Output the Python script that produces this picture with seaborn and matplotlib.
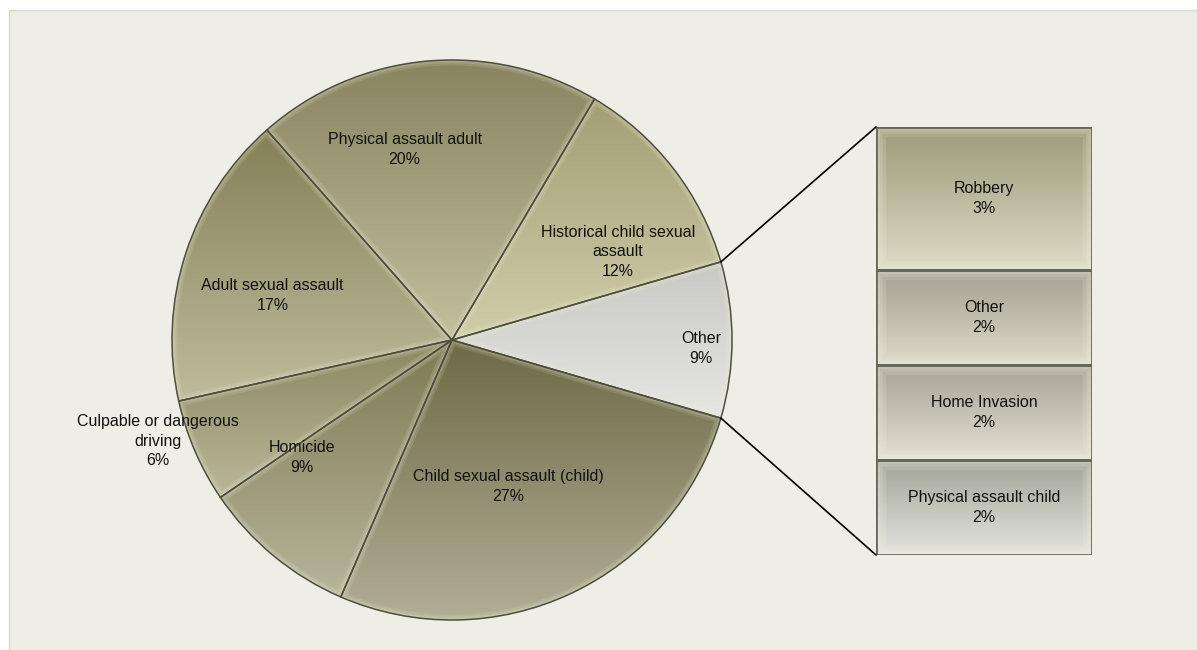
import numpy as np
import matplotlib
matplotlib.use("Agg")
import matplotlib.pyplot as plt
import seaborn as sns
from matplotlib.patches import Rectangle, ConnectionPatch, PathPatch

# Main pie: offence categories (percent), counter-clockwise from the right
pie_labels = ["Other", "Historical child sexual\nassault", "Physical assault adult",
              "Adult sexual assault", "Culpable or dangerous\ndriving", "Homicide",
              "Child sexual assault (child)"]
pie_values = [9, 12, 20, 17, 6, 9, 27]

# Breakdown of "Other", stacked bottom to top
other_labels = ["Physical assault child", "Home Invasion", "Other", "Robbery"]
other_values = [2, 2, 2, 3]

# Gradient colours per slice / segment: (bottom, top)
pie_colors = [("#E6E6E2", "#C9C9C4"), ("#D0CDAA", "#A29E74"), ("#C2BF9F", "#888460"),
              ("#BFBC9D", "#838057"), ("#BAB89A", "#8A8761"), ("#B7B59A", "#7D7A54"),
              ("#B1AE96", "#6D6A46")]
bar_colors = [("#E3E4DC", "#A2A498"), ("#E3E0D3", "#A6A295"),
              ("#DDDAC9", "#A3A093"), ("#DDDBC6", "#9B9A78")]

# Label placement inside the pie: (radius, angle in degrees)
label_polar = [(0.89, -2), (0.67, 28), (0.70, 104), (0.66, 166), (1.11, 199),
               (0.68, 218), (0.56, -69)]

sns.set_theme(style="white")
plt.rcParams["font.family"] = ["Liberation Sans", "DejaVu Sans"]

W, H = 1197, 650
fig = plt.figure(figsize=(W / 100, H / 100), dpi=100)
fig.patch.set_facecolor("white")

# Light panel behind the chart
fig.patches.append(Rectangle((9 / W, -0.02), 1.05, (H - 10) / H + 0.02,
                             transform=fig.transFigure, facecolor="#EEEEE6",
                             edgecolor="#D8D8D0", linewidth=1.0, zorder=-10))


def gradient_fill(ax, patch, extent, colors):
    cmap = sns.blend_palette(list(colors), as_cmap=True)
    grad = np.linspace(0, 1, 256).reshape(-1, 1)
    im = ax.imshow(grad, extent=extent, origin="lower", cmap=cmap,
                   aspect="auto", zorder=0.5, interpolation="bilinear")
    im.set_clip_path(patch)
    return im


def bevel(ax, patch, light, widths, alpha):
    """Soft inner highlight along the outline of a patch (layered strokes)."""
    for lw in widths:
        rim = PathPatch(patch.get_path(), transform=patch.get_transform(),
                        facecolor="none", edgecolor=light, linewidth=lw,
                        alpha=alpha, zorder=0.8, joinstyle="round")
        ax.add_patch(rim)
        rim.set_clip_path(patch)


# ---- pie ----
ax_pie = fig.add_axes([172 / W, 30 / H, 560 / W, 560 / H])
ax_pie.patch.set_visible(False)
total = sum(pie_values)
start = -pie_values[0] / total * 180
wedges, _ = ax_pie.pie(pie_values, startangle=start, counterclock=True,
                       wedgeprops=dict(edgecolor="#4E4E3C", linewidth=1.1))

for w, (c_lo, c_hi) in zip(wedges, pie_colors):
    w.set_facecolor("none")
    th = np.radians(np.linspace(w.theta1, w.theta2, 200))
    xs = np.concatenate([[0], np.cos(th)])
    ys = np.concatenate([[0], np.sin(th)])
    gradient_fill(ax_pie, w, [xs.min(), xs.max(), ys.min(), ys.max()], (c_lo, c_hi))
    bevel(ax_pie, w, "#F4F2DC", [8, 5, 3], 0.12)

for lab, v, (r, ang) in zip(pie_labels, pie_values, label_polar):
    a = np.radians(ang)
    ax_pie.text(r * np.cos(a), r * np.sin(a), f"{lab}\n{v}%", ha="center",
                va="center", fontsize=11.5, linespacing=1.4, color="#111111")

ax_pie.set_xlim(-1, 1)
ax_pie.set_ylim(-1, 1)
ax_pie.set_aspect("auto")
ax_pie.axis("off")

# ---- stacked bar for the "Other" breakdown ----
ax_bar = fig.add_axes([876 / W, 95 / H, 216 / W, 428 / H])
ax_bar.patch.set_visible(False)
bottoms = np.concatenate([[0], np.cumsum(other_values)[:-1]])
bars = ax_bar.bar(0, other_values, width=1.0, bottom=bottoms,
                  facecolor="none", edgecolor="#66665A", linewidth=2.0)
for b, bot, v, cols, lab in zip(bars, bottoms, other_values, bar_colors, other_labels):
    gradient_fill(ax_bar, b, [-0.5, 0.5, bot, bot + v], cols)
    bevel(ax_bar, b, "#F6F4E4", [14, 9, 5], 0.15)
    ax_bar.text(0, bot + v / 2, f"{lab}\n{v}%", ha="center", va="center",
                fontsize=11.5, linespacing=1.4, color="#111111")
ax_bar.set_xlim(-0.5, 0.5)
ax_bar.set_ylim(0, sum(other_values))
ax_bar.axis("off")

# ---- connector lines from the "Other" slice to the bar ----
t1, t2 = np.radians(wedges[0].theta1), np.radians(wedges[0].theta2)
for theta, yb in [(t2, sum(other_values)), (t1, 0)]:
    con = ConnectionPatch(xyA=(np.cos(theta), np.sin(theta)), coordsA=ax_pie.transData,
                          xyB=(-0.5, yb), coordsB=ax_bar.transData,
                          color="black", linewidth=1.2)
    fig.add_artist(con)

fig.savefig("out.png", dpi=100)
